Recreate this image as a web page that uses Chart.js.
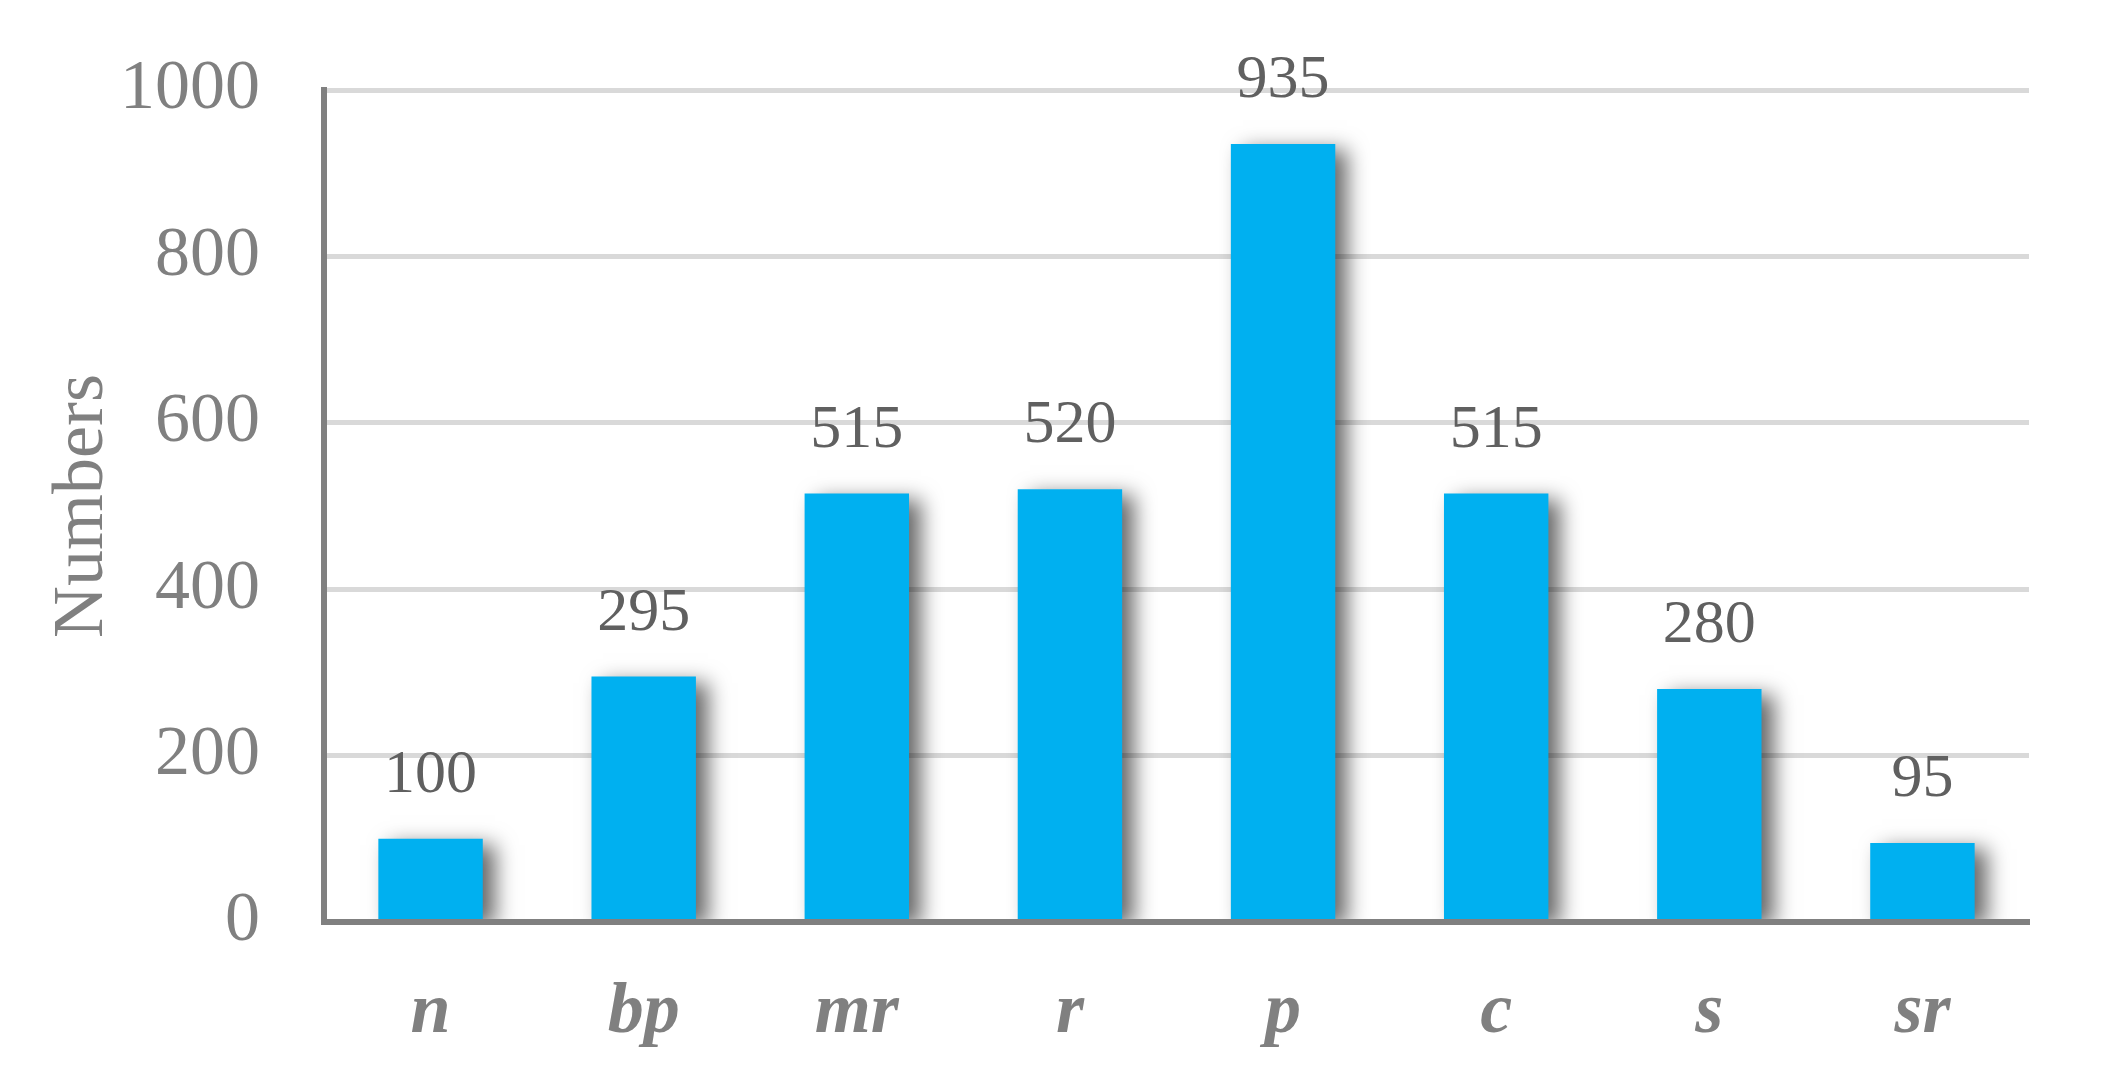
<!DOCTYPE html>
<html>
<head>
<meta charset="utf-8">
<script src="https://cdn.jsdelivr.net/npm/chart.js@4/dist/chart.umd.min.js"></script>
<style>
  html, body { margin: 0; padding: 0; background: #fff; }
  #wrap { width: 2117px; height: 1084px; }
</style>
</head>
<body>
<div id="wrap"><canvas id="c" width="2117" height="1084"></canvas></div>
<script>
const categories = ['n', 'bp', 'mr', 'r', 'p', 'c', 's', 'sr'];
const counts = [100, 295, 515, 520, 935, 515, 280, 95];
const yTitle = 'Numbers';

const barShadow = {
  id: 'barShadow',
  beforeDatasetsDraw(chart) {
    const ctx = chart.ctx;
    ctx.save();
    ctx.shadowColor = 'rgba(0,0,0,0.6)';
    ctx.shadowBlur = 20;
    ctx.shadowOffsetX = 12;
    ctx.shadowOffsetY = 6;
  },
  afterDatasetsDraw(chart) {
    chart.ctx.restore();
  }
};

const valueLabels = {
  id: 'valueLabels',
  afterDatasetsDraw(chart) {
    const ctx = chart.ctx;
    const meta = chart.getDatasetMeta(0);
    ctx.save();
    ctx.font = '62px "Liberation Serif", "Times New Roman", serif';
    ctx.fillStyle = '#606060';
    ctx.textAlign = 'center';
    ctx.textBaseline = 'alphabetic';
    meta.data.forEach((bar, i) => {
      ctx.fillText(String(counts[i]), bar.x, bar.y - 47);
    });
    ctx.restore();
  }
};

new Chart(document.getElementById('c'), {
  type: 'bar',
  data: {
    labels: categories,
    datasets: [{
      data: counts,
      backgroundColor: '#00B0F0',
      borderWidth: 0,
      barPercentage: 0.49,
      categoryPercentage: 1.0
    }]
  },
  options: {
    responsive: false,
    animation: false,
    devicePixelRatio: 1,
    layout: { padding: { top: 90, right: 88, left: 0, bottom: 0 } },
    plugins: {
      legend: { display: false },
      tooltip: { enabled: false }
    },
    scales: {
      x: {
        afterFit(s) { s.height = 162; },
        grid: { display: false },
        border: { display: true, color: '#808080', width: 6, z: 1 },
        ticks: {
          color: '#808080',
          padding: 40,
          font: { family: '"Liberation Serif", "Times New Roman", serif', size: 72, style: 'italic', weight: 'bold' }
        }
      },
      y: {
        min: 0,
        max: 1000,
        afterFit(s) { s.width = 324; },
        grid: { color: '#d9d9d9', lineWidth: 5, drawTicks: true, tickLength: 60, tickColor: 'rgba(0,0,0,0)' },
        border: { display: true, color: '#808080', width: 6, z: 1 },
        ticks: {
          stepSize: 200,
          color: '#808080',
          padding: 4,
          callback: (v) => String(v),
          font: { family: '"Liberation Serif", "Times New Roman", serif', size: 70 }
        },
        title: {
          display: true,
          text: yTitle,
          color: '#808080',
          padding: { top: 40, bottom: 0 },
          font: { family: '"Liberation Serif", "Times New Roman", serif', size: 72 }
        }
      }
    }
  },
  plugins: [barShadow, valueLabels]
});
</script>
</body>
</html>
